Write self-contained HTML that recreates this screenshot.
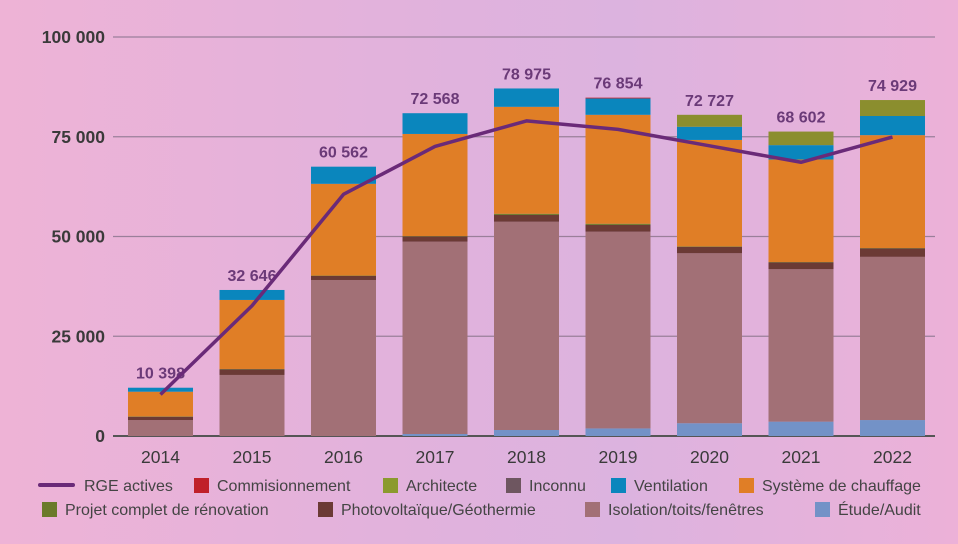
<!DOCTYPE html>
<html><head><meta charset="utf-8"><style>
html,body{margin:0;padding:0}
body{width:958px;height:544px;overflow:hidden;background:linear-gradient(90deg,#eeb3d6 0%,#e2b2dc 40%,#dcb3df 65%,#ecb1d8 100%);font-family:"Liberation Sans",sans-serif}
svg{display:block}
text{font-family:"Liberation Sans",sans-serif}
</style></head><body>
<svg id="chart" width="958" height="544" viewBox="0 0 958 544"></svg>
<script>
const years=["2014","2015","2016","2017","2018","2019","2020","2021","2022"];
const rgeActives=[10398,32646,60562,72568,78975,76854,72727,68602,74929];
const rgeLabels=["10 398","32 646","60 562","72 568","78 975","76 854","72 727","68 602","74 929"];
const etudeAudit=[0,0,0,500,1500,1900,3200,3600,4000];
const isolation=[4000,15300,39100,48200,52200,49300,42600,38200,40900];
const photovolt=[800,1400,1000,1300,1700,1700,1600,1700,2100];
const projetComplet=[100,100,100,100,300,300,100,100,100];
const chauffage=[6200,17300,23000,25600,26800,27300,26700,25700,28300];
const ventilation=[1000,2500,4300,5200,4600,4100,3300,3600,4800];
const inconnu=[0,0,0,0,0,0,0,0,0];
const architecte=[0,0,0,0,0,0,3000,3400,4000];
const commission=[0,0,0,0,0,200,0,0,0];
const yTicks=[0,25000,50000,75000,100000];
const yTickLabels=["0","25 000","50 000","75 000","100 000"];
const NS="http://www.w3.org/2000/svg";
const svg=document.getElementById("chart");
const y=v=>436-v*0.00399;
const xc=i=>160.5+91.5*i;
const BW=65;
function mk(tag,attrs,parent){const e=document.createElementNS(NS,tag);for(const k in attrs)e.setAttribute(k,attrs[k]);(parent||svg).appendChild(e);return e;}
yTicks.forEach((t,i)=>{
  const l=mk("line",{x1:113,x2:935,y1:y(t),y2:y(t),stroke:t===0?"#555":"#9a7f9a","stroke-width":t===0?2:1.3});
  
  
  const tx=mk("text",{x:105,y:y(t)+6,"text-anchor":"end","font-size":17.5,"font-weight":"bold",fill:"#3a3a3a"});
  tx.textContent=yTickLabels[i];
  
  
});
const series=[
 [etudeAudit,"#7392c7","etude-audit"],
 [isolation,"#a27076","isolation"],
 [photovolt,"#6b3a35","photovoltaique"],
 [projetComplet,"#6b7a2a","projet-complet"],
 [chauffage,"#e07e26","chauffage"],
 [ventilation,"#0a86bd","ventilation"],
 [inconnu,"#6e5660","inconnu"],
 [architecte,"#8b8e2e","architecte"],
 [commission,"#c0202a","commissionnement"]
];
years.forEach((yr,i)=>{
  let cum=0;
  series.forEach(([arr,col,nm])=>{
    const v=arr[i];if(v<=0)return;
    const r=mk("rect",{x:xc(i)-BW/2,y:y(cum+v),width:BW,height:y(cum)-y(cum+v),fill:col});
    
    
    cum+=v;
  });
  const lab=mk("text",{x:xc(i),y:y(cum)-9,"text-anchor":"middle","font-size":16,fill:"#6b3a78","font-weight":"bold"});
  lab.textContent=rgeLabels[i];
  
  
  const xl=mk("text",{x:xc(i),y:463,"text-anchor":"middle","font-size":17.5,fill:"#3a3a3a"});
  xl.textContent=yr;
  
  
});
const pl=mk("polyline",{points:rgeActives.map((v,i)=>xc(i)+","+y(v)).join(" "),fill:"none",stroke:"#6a2a78","stroke-width":3.5,"stroke-linejoin":"round"});


const legend=[
 ["line","#6a2a78","RGE actives",40,485],
 ["sq","#c0202a","Commisionnement",194,485],
 ["sq","#8b9a2e","Architecte",383,485],
 ["sq","#6e5660","Inconnu",506,485],
 ["sq","#0a86bd","Ventilation",611,485],
 ["sq","#e07e26","Système de chauffage",739,485],
 ["sq","#6b7a2a","Projet complet de rénovation",42,509],
 ["sq","#6b3a35","Photovoltaïque/Géothermie",318,509],
 ["sq","#a27076","Isolation/toits/fenêtres",585,509],
 ["sq","#7392c7","Étude/Audit",815,509]
];
legend.forEach(([t,c,lbl,x0,yy])=>{
  const g=mk("g",{});
  
  
  let tx0;
  if(t==="line"){mk("line",{x1:x0,x2:x0+33,y1:yy,y2:yy,stroke:c,"stroke-width":4,"stroke-linecap":"round"},g);tx0=x0+44;}
  else{mk("rect",{x:x0,y:yy-7,width:15,height:15,fill:c},g);tx0=x0+23;}
  const tx=mk("text",{x:tx0,y:yy+6,"font-size":16,fill:"#444"},g);
  tx.textContent=lbl;
});
</script>
</body></html>
